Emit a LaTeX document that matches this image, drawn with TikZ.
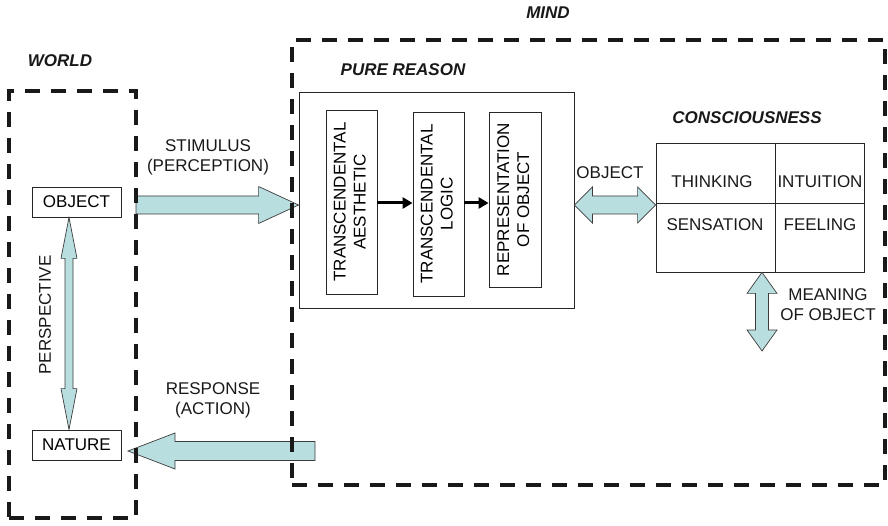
\documentclass[tikz,border=0pt]{standalone}
\usepackage{fontspec}
\setmainfont{Liberation Sans}
\usetikzlibrary{calc,arrows.meta}
\definecolor{arrowfill}{RGB}{185,222,224}
\definecolor{edgegray}{RGB}{60,60,60}
\tikzset{
 blk/.style={fill=arrowfill, draw=edgegray, line width=0.7pt, line join=miter},
 dashbox/.style={draw=black!90, line width=4.5pt, dash pattern=on 15pt off 11pt, rectangle, inner sep=0pt},
 thinbox/.style={draw=black!85, line width=0.8pt, rectangle, inner sep=0pt},
 lbl/.style={inner sep=0pt, align=center, text=black!90},
 ttl/.style={inner sep=0pt, font=\fontsize{17}{20}\selectfont\bfseries\itshape, text=black!90},
 barrow/.style={line width=3pt, -{Triangle[length=10pt,width=11pt]}},
}
% single block arrow: tail, tip, shaft half width, head half width, head length
\newcommand\singlearrow[5]{%
 \path[blk] let \p1=(#1), \p2=(#2),
   \n1={veclen(\x2-\x1,\y2-\y1)},
   \n2={(\x2-\x1)/\n1}, \n3={(\y2-\y1)/\n1} in
   ({\x1-(\n3)*(#3)},{\y1+(\n2)*(#3)})
   -- ({\x2-(\n2)*(#5)-(\n3)*(#3)},{\y2-(\n3)*(#5)+(\n2)*(#3)})
   -- ({\x2-(\n2)*(#5)-(\n3)*(#4)},{\y2-(\n3)*(#5)+(\n2)*(#4)})
   -- (\p2)
   -- ({\x2-(\n2)*(#5)+(\n3)*(#4)},{\y2-(\n3)*(#5)-(\n2)*(#4)})
   -- ({\x2-(\n2)*(#5)+(\n3)*(#3)},{\y2-(\n3)*(#5)-(\n2)*(#3)})
   -- ({\x1+(\n3)*(#3)},{\y1-(\n2)*(#3)})
   -- cycle;}
% double block arrow
\newcommand\doublearrow[5]{%
 \path[blk] let \p1=(#1), \p2=(#2),
   \n1={veclen(\x2-\x1,\y2-\y1)},
   \n2={(\x2-\x1)/\n1}, \n3={(\y2-\y1)/\n1} in
   (\p1)
   -- ({\x1+(\n2)*(#5)-(\n3)*(#4)},{\y1+(\n3)*(#5)+(\n2)*(#4)})
   -- ({\x1+(\n2)*(#5)-(\n3)*(#3)},{\y1+(\n3)*(#5)+(\n2)*(#3)})
   -- ({\x2-(\n2)*(#5)-(\n3)*(#3)},{\y2-(\n3)*(#5)+(\n2)*(#3)})
   -- ({\x2-(\n2)*(#5)-(\n3)*(#4)},{\y2-(\n3)*(#5)+(\n2)*(#4)})
   -- (\p2)
   -- ({\x2-(\n2)*(#5)+(\n3)*(#4)},{\y2-(\n3)*(#5)-(\n2)*(#4)})
   -- ({\x2-(\n2)*(#5)+(\n3)*(#3)},{\y2-(\n3)*(#5)-(\n2)*(#3)})
   -- ({\x1+(\n2)*(#5)+(\n3)*(#3)},{\y1+(\n3)*(#5)-(\n2)*(#3)})
   -- ({\x1+(\n2)*(#5)+(\n3)*(#4)},{\y1+(\n3)*(#5)-(\n2)*(#4)})
   -- cycle;}
\newcommand\vtext[1]{\rotatebox{90}{\begin{tabular}{@{}c@{}}#1\end{tabular}}}
\begin{document}
\begin{tikzpicture}[x=1pt, y=-1pt, font=\fontsize{17}{20}\selectfont]
\useasboundingbox (0,0) rectangle (888,526);

% titles
\node[ttl] (tworld) at (60,61) {WORLD};
\node[ttl] (tmind) at (548,13) {MIND};
\node[ttl] (tpure) at (403,70) {PURE REASON};
\node[ttl] (tcons) at (747,118) {CONSCIOUSNESS};

% world boxes
\node[thinbox, minimum width=89pt, minimum height=30pt] (obj) at (76.5,202) {OBJECT};
\node[thinbox, minimum width=89pt, minimum height=30pt] (nat) at (76.5,445) {NATURE};

% pure reason
\node[thinbox, minimum width=275pt, minimum height=216pt] (pr) at (436.5,200) {};
\node[thinbox, minimum width=51pt, minimum height=184pt] (ta) at (351.5,202) {\vtext{TRANSCENDENTAL\\AESTHETIC}};
\node[thinbox, minimum width=51pt, minimum height=184pt] (tl) at (438.5,204) {\vtext{TRANSCENDENTAL\\LOGIC}};
\node[thinbox, minimum width=52pt, minimum height=175pt] (ro) at (515,199.5) {\vtext{REPRESENTATION\\OF OBJECT}};
\coordinate (ay) at (0,203);
\draw[barrow] (ta.east |- ay) -- (tl.west |- ay);
\draw[barrow] (tl.east |- ay) -- (ro.west |- ay);

% consciousness
\node[thinbox, minimum width=208pt, minimum height=129pt] (cons) at (760,207.5) {};
\coordinate (cdiv) at (775,203);
\draw[black!85, line width=0.8pt] (cdiv |- cons.north) -- (cdiv |- cons.south);
\draw[black!85, line width=0.8pt] (cdiv -| cons.west) -- (cdiv -| cons.east);
\node[lbl] (think) at (712,182) {THINKING};
\node[lbl] (intu) at (820,182) {INTUITION};
\node[lbl] (sens) at (715,225) {SENSATION};
\node[lbl] (feel) at (820,225) {FEELING};

% block arrows
\coordinate (stimtail) at (136,205);
\singlearrow{stimtail}{stimtail -| pr.west}{9pt}{18.5pt}{40pt}
\doublearrow{pr.east |- stimtail}{cons.west |- stimtail}{9pt}{18pt}{18pt}
\coordinate (persp) at (69,0);
\doublearrow{persp |- obj.south}{persp |- nat.north}{4pt}{8pt}{41pt}
\coordinate (meanend) at (762,351);
\doublearrow{meanend |- cons.south}{meanend}{6.5pt}{15pt}{21pt}
\coordinate (resptail) at (315,451);
\coordinate (resptip) at (128,451);
\singlearrow{resptail}{resptip}{9.5pt}{18pt}{47pt}

% labels
\node[lbl] (lstim) at (208,157) {STIMULUS\\(PERCEPTION)};
\node[lbl] (lresp) at (213,400) {RESPONSE\\(ACTION)};
\node[lbl] (lobj) at (610,173) {OBJECT};
\node[lbl] (lmean) at (828,305) {MEANING\\OF OBJECT};
\node[lbl, rotate=90] (lpersp) at (45,315) {PERSPECTIVE};

% dashed region boxes
\node[dashbox, minimum width=127pt, minimum height=427pt] (world) at (72.5,304.5) {};
\node[dashbox, minimum width=593pt, minimum height=445pt] (mind) at (588.5,262.5) {};
\end{tikzpicture}
\end{document}
